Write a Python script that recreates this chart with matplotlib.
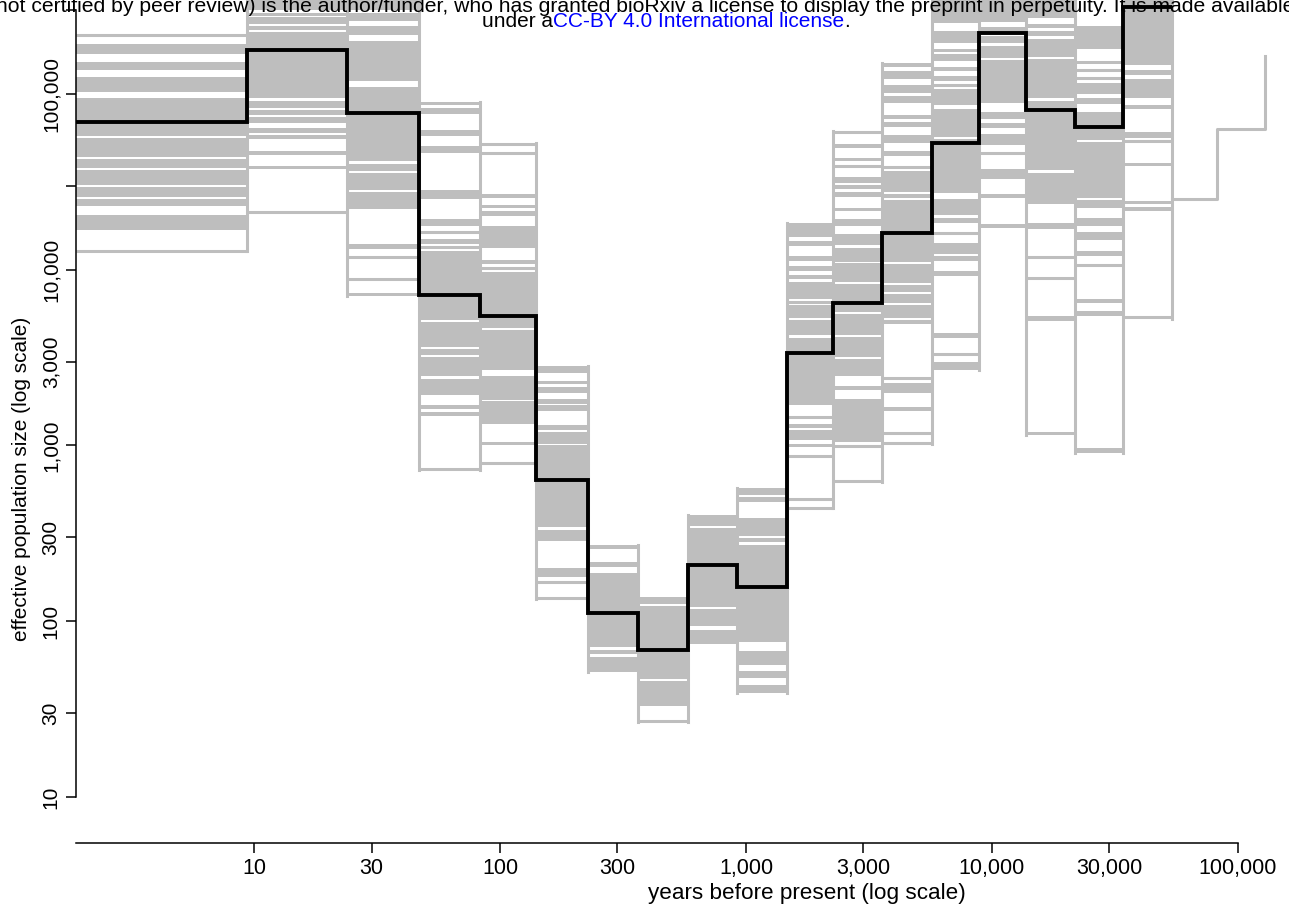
import numpy as np
import matplotlib
matplotlib.use("Agg")
import matplotlib.pyplot as plt

plt.rcParams['font.family'] = ['Liberation Sans', 'DejaVu Sans']

# epoch boundaries (years before present)
edges = [1.88, 9.30, 23.9, 46.7, 82.7, 139.8, 227.6, 363.5, 580.8, 919,
         1468, 2260, 3594, 5713, 8917, 13788, 21824, 34212, 54143]

# point estimate of Ne per epoch (black line)
ne_est = [69500, 178000, 78300, 7180, 5460, 636, 111, 68.6, 209, 157,
          3370, 6470, 16200, 52600, 222000, 81100, 64900, 313000]

# bootstrap replicates, read per epoch as (low, high) bands of overlapping lines
TOP = 400000
boot = [
    [(214000, 222000), (169000, 192000), (137000, 152000), (103000, 125000), (57700, 94900),
     (43800, 56200), (38000, 42700), (30400, 37000), (26000, 29600), (23100, 25300),
     (16900, 20600), (12800, 12800)],
    [(300000, TOP), (281000, 292000), (250000, 274000), (231000, 243000), (94900, 225000),
     (83200, 91300), (76000, 81100), (68400, 74000), (60000, 64000), (55500, 58500),
     (45000, 47500), (37500, 39000), (21400, 21400)],
    [(300000, TOP), (260000, 288000), (216000, 243000), (119000, 200000), (41600, 110000),
     (36500, 40000), (28500, 35600), (22200, 27700), (13200, 14100), (11600, 11900),
     (8780, 9020), (7110, 7400)],
    [(86700, 90200), (77000, 83200), (57700, 62400), (46300, 50700), (25300, 28500),
     (17800, 19500), (16200, 16700), (14100, 15000), (13300, 13700), (5200, 12700),
     (3650, 5070), (3290, 3560), (2470, 3200), (1950, 2400), (1620, 1710), (1480, 1560),
     (721, 740)],
    [(50700, 52700), (45600, 46800), (25700, 27000), (22500, 23400), (20300, 21600),
     (13300, 17800), (10800, 11400), (10100, 10400), (4680, 9750), (2700, 4560),
     (1820, 2500), (1330, 1780), (1000, 1040), (790, 800)],
    [(2600, 2850), (2250, 2340), (2000, 2140), (1730, 1850), (1580, 1690), (1220, 1300),
     (1025, 1190), (342, 1000), (285, 329), (178, 200), (164, 169), (134, 137)],
    [(257, 270), (203, 216), (71, 187), (65, 68.4), (51.3, 62.4)],
    [(126, 137), (46.8, 122), (32.9, 45.6), (26.7, 27.4)],
    [(347, 400), (120, 338), (93.7, 117), (74, 89)],
    [(520, 570), (475, 507), (304, 385), (281, 296), (76, 270), (56.2, 67.6),
     (47.5, 52), (39, 43.3)],
    [(15400, 18500), (13700, 14600), (11250, 12000), (9870, 10550), (8900, 9380),
     (6840, 8550), (6500, 6670), (5340, 6330), (4270, 5200), (1710, 4110), (1440, 1480),
     (1250, 1330), (1070, 1220), (975, 1025), (855, 877), (487, 500), (439, 445)],
    [(59300, 61600), (49400, 52000), (41600, 43300), (38000, 39500), (31200, 33800),
     (28900, 30400), (26000, 27700), (21600, 22500), (17800, 19500), (13900, 16000),
     (11100, 13300), (8550, 10960), (5770, 8320), (4270, 5620), (3200, 4160),
     (2470, 3120), (2080, 2190), (1040, 1850), (975, 1000), (617, 641)],
    [(142000, 150000), (122000, 135000), (101000, 112000), (88900, 97500), (72100, 76000),
     (65000, 69300), (52700, 58500), (44400, 47500), (38000, 39000), (27700, 36500),
     (25700, 27000), (11100, 25000), (8440, 10800), (7500, 8220), (6500, 7310),
     (5340, 6330), (4930, 5200), (2400, 2470), (2000, 2280), (1580, 1660), (1170, 1190),
     (1025, 1040)],
    [(253000, TOP), (195000, 228000), (173000, 180000), (154000, 169000), (135000, 142000),
     (119000, 126000), (110000, 114000), (86700, 107000), (57000, 82200), (27400, 55500),
     (20600, 25300), (18500, 19700), (16000, 16400), (12300, 14200), (11250, 12000),
     (9250, 9870), (4110, 4390), (3290, 3380), (2700, 2970)],
    [(256000, TOP), (222000, 240000), (195000, 214000), (160000, 187000), (88900, 156000),
     (72100, 79000), (64100, 68400), (51300, 59300), (45600, 46800), (32900, 37500),
     (25700, 27000), (17300, 18300)],
    [(270000, TOP), (237000, 250000), (214000, 228000), (162000, 206000), (94900, 158000),
     (37000, 91300), (23700, 35600), (17100, 18500), (11600, 12000), (8900, 9120),
     (5130, 5480), (1140, 1190)],
    [(180000, 243000), (148000, 154000), (135000, 139000), (122000, 126000),
     (100000, 116000), (87700, 94900), (54800, 79000), (25700, 53400), (22500, 25000),
     (17800, 19700), (14800, 16400), (12000, 12700), (10400, 10800), (6500, 6840),
     (5480, 5850), (912, 962)],
    [(146000, TOP), (128000, 137000), (94900, 122000), (82200, 86700), (56200, 60800),
     (52700, 54800), (39000, 40600), (23700, 24700), (21600, 22800), (5270, 5480)],
]

# one replicate that runs past the last epoch
tail_edges = [54143, 82515, 129400]
tail_ne = [25300, 63200, 164000]

xticks = [10, 30, 100, 300, 1000, 3000, 10000, 30000, 100000]
xticklabels = ['10', '30', '100', '300', '1,000', '3,000', '10,000', '30,000', '100,000']
yticks = [10, 30, 100, 300, 1000, 3000, 10000, 30000, 100000, 300000]
yticklabels = ['10', '30', '100', '300', '1,000', '3,000', '10,000', '', '100,000', '']

GRAY = '#bebebe'
LW = 2.2

fig = plt.figure(figsize=(12.89, 9.10), dpi=100)
ax = fig.add_axes([76/1289, 1-843/910, 1-76/1289, 843/910])
ax.set_xscale('log')
ax.set_yscale('log')
ax.set_xlim(1.88, 162000)
ax.set_ylim(5.47, 342700)

# gray bootstrap bands: single lines get a stroke, wider bands are filled exactly
for i, bands in enumerate(boot):
    x0, x1 = edges[i], edges[i+1]
    for lo, hi in bands:
        if hi / lo < 1.04:
            m = np.sqrt(lo * hi)
            ax.plot([x0, x1], [m, m], color=GRAY, lw=LW, solid_capstyle='butt', zorder=1)
        else:
            ax.fill_between([x0, x1], [lo, lo], [hi, hi], color=GRAY, lw=0, zorder=1)

# vertical jumps between epochs
for i in range(len(boot)):
    lo = min(b[0] for b in boot[i])
    hi = max(b[1] for b in boot[i])
    if i + 1 < len(boot):
        lo = min(lo, min(b[0] for b in boot[i+1]))
        hi = max(hi, max(b[1] for b in boot[i+1]))
    ax.plot([edges[i+1], edges[i+1]], [lo, hi], color=GRAY, lw=LW,
            solid_capstyle='projecting', zorder=1)

tx = [tail_edges[0], tail_edges[1], tail_edges[1], tail_edges[2], tail_edges[2]]
ty = [tail_ne[0], tail_ne[0], tail_ne[1], tail_ne[1], tail_ne[2]]
ax.plot(tx, ty, color=GRAY, lw=LW, zorder=1)

# point estimate
ax.stairs(ne_est, edges, baseline=None, color='black', lw=2.8, zorder=3)

for s in ['top', 'right']:
    ax.spines[s].set_visible(False)
ax.spines['left'].set_bounds(10, 300000)
ax.spines['bottom'].set_bounds(1.88, 100000)
for s in ['left', 'bottom']:
    ax.spines[s].set_linewidth(1.1)

ax.minorticks_off()
ax.set_xticks(xticks)
ax.set_xticklabels(xticklabels, fontsize=15.5)
ax.set_yticks(yticks)
ax.set_yticklabels(yticklabels, rotation=90, va='center', fontsize=15)
ax.tick_params(axis='both', direction='out', length=7, width=1.1)
ax.tick_params(axis='y', pad=4)
ax.tick_params(axis='x', pad=4)

fig.text(807/1289, 1-893/910, 'years before present (log scale)', fontsize=16.2,
         ha='center', va='center')
fig.text(22/1289, 1-479/910, 'effective population size (log scale)', fontsize=15,
         ha='center', va='center', rotation=90)

# header of the preprint page
fig.text(-4/1289, 1-12/910, 'not certified by peer review) is the author/funder, who has granted '
         'bioRxiv a license to display the preprint in perpetuity. It is made available',
         fontsize=15.2, ha='left', va='baseline')
renderer = fig.canvas.get_renderer()
inv = fig.transFigure.inverted()
t1 = fig.text(482/1289, 1-27/910, 'under a', fontsize=15, ha='left', va='baseline')
x_next = t1.get_window_extent(renderer).transformed(inv).x1
t2 = fig.text(x_next, 1-27/910, 'CC-BY 4.0 International license', color='#0000ff',
              fontsize=15, ha='left', va='baseline')
x_next = t2.get_window_extent(renderer).transformed(inv).x1
fig.text(x_next, 1-27/910, '.', fontsize=15, ha='left', va='baseline')

fig.savefig('out.png', dpi=100)
